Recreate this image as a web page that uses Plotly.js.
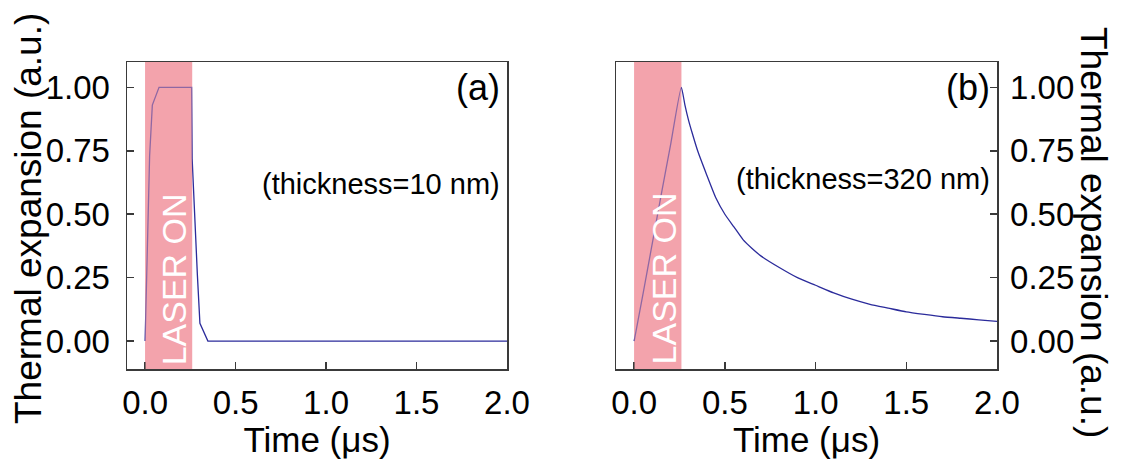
<!DOCTYPE html>
<html>
<head>
<meta charset="utf-8">
<script src="https://cdn.plot.ly/plotly-3.0.1.min.js"></script>
<style>html,body{margin:0;padding:0;background:#fff;}#chart{width:1123px;height:459px;}</style>
</head>
<body>
<div id="chart"></div>
<script>
// ---- data ----
const timeA = [0, 0.025, 0.04, 0.077, 0.257, 0.26, 0.289, 0.303, 0.347, 2.0];
const expA  = [0, 0.73, 0.93, 1.0, 1.0, 0.72, 0.26, 0.07, 0, 0];
const timeB = [0, 0.05, 0.1, 0.15, 0.2, 0.26, 0.28, 0.3, 0.32, 0.35, 0.4, 0.45, 0.5, 0.55, 0.6, 0.65, 0.7, 0.8, 0.9, 1.0, 1.1, 1.2, 1.3, 1.4, 1.5, 1.6, 1.7, 1.8, 1.9, 2.0];
const expB  = [0, 0.19, 0.385, 0.58, 0.77, 1.0, 0.93, 0.87, 0.82, 0.75, 0.655, 0.565, 0.50, 0.45, 0.40, 0.365, 0.335, 0.29, 0.25, 0.22, 0.19, 0.165, 0.145, 0.13, 0.115, 0.105, 0.096, 0.09, 0.084, 0.078];
const laserOn = [0, 0.26];
const xTickVals = [0, 0.5, 1.0, 1.5, 2.0];
const xTickText = ['0.0', '0.5', '1.0', '1.5', '2.0'];
const yTickVals = [0, 0.25, 0.5, 0.75, 1.0];
const yTickText = ['0.00', '0.25', '0.50', '0.75', '1.00'];
const panelLabels = ['(a)', '(b)'];
const thicknessLabels = ['(thickness=10 nm)', '(thickness=320 nm)'];
const xTitle = 'Time (μs)';
const yTitle = 'Thermal expansion (a.u.)';

const FONT = 'Liberation Sans, Arial, Helvetica, sans-serif';
const LINE = '#2b2b9b';
const AX = '#3a3a3a';
const PINK = 'rgb(243,163,172)';

const traces = [
  {x: timeA, y: expA, xaxis: 'x', yaxis: 'y', mode: 'lines', line: {color: LINE, width: 1.3}, hoverinfo: 'skip'},
  {x: timeB, y: expB, xaxis: 'x2', yaxis: 'y2', mode: 'lines', line: {color: LINE, width: 1.3, shape: 'spline', smoothing: 0.5}, hoverinfo: 'skip'}
];

function xax(domain, anchor) {
  return {
    domain: domain, anchor: anchor, range: [-0.1, 2.0],
    tickmode: 'array', tickvals: xTickVals, ticktext: xTickText,
    ticks: 'inside', ticklen: 7, tickwidth: 1.5, tickcolor: AX,
    showline: true, linecolor: AX, linewidth: 1.5, mirror: true,
    showgrid: false, zeroline: false,
    tickfont: {family: FONT, size: 33, color: '#000'},
    ticklabelstandoff: 4,
    title: {text: xTitle, font: {family: FONT, size: 35, color: '#000'}, standoff: 6}
  };
}
function yax(domain, anchor, side) {
  return {
    domain: domain, anchor: anchor, side: side, range: [-0.11, 1.1],
    tickmode: 'array', tickvals: yTickVals, ticktext: yTickText,
    ticks: 'inside', ticklen: 7, tickwidth: 1.5, tickcolor: AX,
    showline: true, linecolor: AX, linewidth: 1.5, mirror: true,
    showgrid: false, zeroline: false,
    tickfont: {family: FONT, size: 33, color: '#000'},
    ticklabelstandoff: side === 'left' ? 9 : 5
  };
}

const shapes = [];
[['x', 'y'], ['x2', 'y2']].forEach(([xr, yr]) => {
  shapes.push({type: 'rect', xref: xr, yref: yr + ' domain', x0: laserOn[0], x1: laserOn[1], y0: 0, y1: 1,
    fillcolor: PINK, line: {width: 0}, layer: 'below'});
  shapes.push({type: 'rect', xref: xr, yref: yr + ' domain', x0: laserOn[0], x1: laserOn[1], y0: 0, y1: 1,
    fillcolor: PINK, opacity: 0.5, line: {width: 0}, layer: 'above'});
});

const annotations = [];
[['x', 'y'], ['x2', 'y2']].forEach(([xr, yr], i) => {
  annotations.push({xref: xr, yref: yr, x: 0.162, y: 0.245, text: 'LASER ON', textangle: -90, showarrow: false,
    font: {family: FONT, size: 34, color: '#fff'}, xanchor: 'center', yanchor: 'middle'});
  annotations.push({xref: xr, yref: yr, x: 1.97, y: 1.0, text: panelLabels[i], showarrow: false,
    font: {family: FONT, size: 36, color: '#000'}, xanchor: 'right', yanchor: 'middle'});
  annotations.push({xref: xr, yref: yr, x: 1.97, y: i === 0 ? 0.62 : 0.64, text: thicknessLabels[i], showarrow: false,
    font: {family: FONT, size: 29, color: '#000'}, xanchor: 'right', yanchor: 'middle'});
});
// paper coords: plot area spans y pixels 62..369 (height 307)
annotations.push({xref: 'paper', yref: 'paper', x: 28 / 1123, y: (369 - 219) / 307, text: yTitle, textangle: -90,
  showarrow: false, font: {family: FONT, size: 37, color: '#000'}, xanchor: 'center', yanchor: 'middle'});
annotations.push({xref: 'paper', yref: 'paper', x: 1094 / 1123, y: (369 - 232) / 307, text: yTitle, textangle: 90,
  showarrow: false, font: {family: FONT, size: 37, color: '#000'}, xanchor: 'center', yanchor: 'middle'});

const layout = {
  width: 1123, height: 459,
  margin: {l: 0, r: 0, t: 62, b: 90},
  paper_bgcolor: '#fff', plot_bgcolor: '#fff',
  showlegend: false,
  xaxis: xax([127 / 1123, 507 / 1123], 'y'),
  yaxis: yax([0, 1], 'x', 'left'),
  xaxis2: xax([616 / 1123, 997 / 1123], 'y2'),
  yaxis2: yax([0, 1], 'x2', 'right'),
  shapes: shapes,
  annotations: annotations
};

Plotly.newPlot('chart', traces, layout, {staticPlot: true, displayModeBar: false});
</script>
</body>
</html>
